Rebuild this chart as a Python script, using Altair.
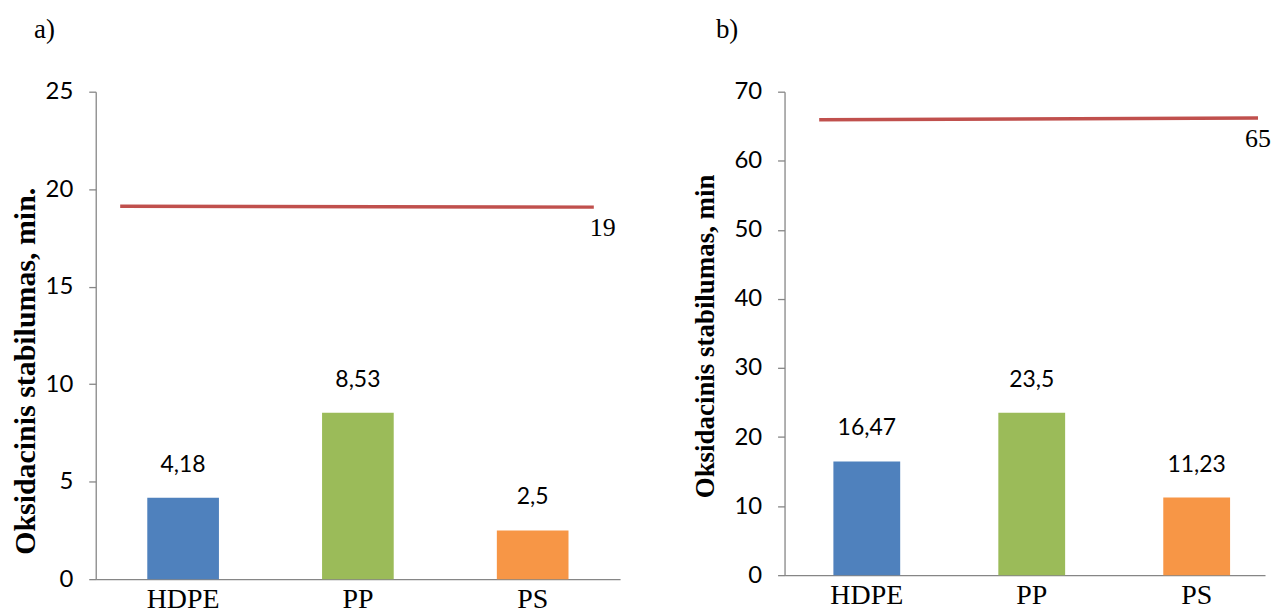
import altair as alt
import pandas as pd

categories = ["HDPE", "PP", "PS"]
values_a = [4.18, 8.53, 2.5]
values_b = [16.47, 23.5, 11.23]
labels_a = ["4,18", "8,53", "2,5"]
labels_b = ["16,47", "23,5", "11,23"]
bar_colors = ["#4F81BD", "#9BBB59", "#F79646"]

# reference line: x in category-step units from the plot's left edge, y in minutes
limit_a_x = [0.14, 2.85]
limit_a_y = [19.12, 19.08]
limit_a_label = "19"
limit_b_x = [0.21, 2.87]
limit_b_y = [65.95, 66.2]
limit_b_label = "65"

y_ticks_a = [0, 5, 10, 15, 20, 25]
y_ticks_b = [0, 10, 20, 30, 40, 50, 60, 70]

AXIS_GREY = "#868686"


def panel(title, vals, labs, lx, ly, llab, yticks, ytitle, width, height,
          title_size, title_pad, title_y, p_inner, p_outer, align, x_units, lab_dx):
    bars_df = pd.DataFrame({"cat": categories, "v": vals, "lab": labs})
    x_enc = alt.X(
        "cat:N", sort=categories,
        scale=alt.Scale(type="band", paddingInner=p_inner, paddingOuter=p_outer,
                        align=align),
        axis=alt.Axis(title=None, labelAngle=0, ticks=False,
                      labelFont="Liberation Serif", labelFontSize=28,
                      labelColor="black", labelPadding=6,
                      domainColor=AXIS_GREY, domainWidth=1.3),
    )
    y_enc = alt.Y(
        "v:Q",
        scale=alt.Scale(domain=[yticks[0], yticks[-1]], nice=False),
        axis=alt.Axis(values=yticks, title=ytitle, grid=False,
                      labelFont="Lato", labelFontSize=24, labelColor="black",
                      labelPadding=16, tickSize=7, tickColor=AXIS_GREY,
                      tickWidth=1.3, domainColor=AXIS_GREY, domainWidth=1.3,
                      titleFont="Liberation Serif", titleFontWeight="bold",
                      titleFontSize=title_size, titleColor="black",
                      titlePadding=title_pad, titleY=title_y),
    )
    base = alt.Chart(bars_df)
    bars = base.mark_bar().encode(
        x=x_enc, y=y_enc,
        color=alt.Color("cat:N", scale=alt.Scale(domain=categories, range=bar_colors),
                        legend=None),
    )
    text = base.mark_text(dy=-33, font="Lato", fontSize=23, color="black",
                          baseline="middle").encode(x=x_enc, y=y_enc, text="lab:N")

    line_df = pd.DataFrame({"px": lx, "v": ly})
    lx_enc = alt.X("px:Q", scale=alt.Scale(domain=[0, x_units], nice=False, zero=False),
                   axis=None)
    line = alt.Chart(line_df).mark_line(color="#C0504D", strokeWidth=3.5).encode(
        x=lx_enc, y=y_enc)
    lab_df = pd.DataFrame({"px": [lx[-1]], "v": [ly[-1]], "t": [llab]})
    lab = alt.Chart(lab_df).mark_text(
        align="left", dx=lab_dx, dy=21, font="Liberation Serif", fontSize=26,
        color="black", baseline="middle").encode(x=lx_enc, y=y_enc, text="t:N")

    return alt.layer(alt.layer(bars, text), alt.layer(line, lab)).resolve_scale(
        x="independent").properties(
        width=width, height=height,
        title=alt.TitleParams(text=title, anchor="start", font="Liberation Serif",
                              fontSize=27, fontWeight="normal", color="black",
                              dx=24, offset=36),
    )


W_A, W_B = 526, 482
left = panel("a)", values_a, labels_a, limit_a_x, limit_a_y, limit_a_label,
             y_ticks_a, "Oksidacinis stabilumas, min.", W_A, 489, 30, 5, 280,
             0.59, 0.295, 0.5, 3.0, -4)
right = panel("b)", values_b, labels_b, limit_b_x, limit_b_y, limit_b_label,
              y_ticks_b, "Oksidacinis stabilumas, min", W_B, 485, 27, 14, 245,
              0.595, 0.254, 0.583, W_B / 165.5, -13)

chart = alt.hconcat(left, right, spacing=72).properties(
    padding={"left": 2, "top": 7, "right": 0, "bottom": 0},
    background="white",
).configure_view(stroke=None)

chart.save("out.html", embed_options={"renderer": "svg", "actions": False})
